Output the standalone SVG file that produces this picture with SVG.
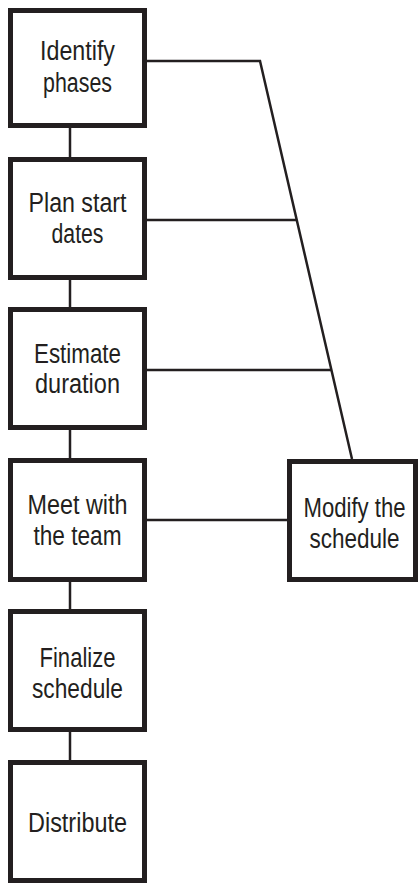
<svg xmlns="http://www.w3.org/2000/svg" width="418" height="883" viewBox="0 0 418 883">
  <style>
    .box { fill: #ffffff; stroke: #231f20; stroke-width: 5; }
    .lbl { font-family: "Liberation Sans Narrow", "Liberation Sans", Arial, sans-serif; font-size: 27px; fill: #231f20; text-anchor: middle; }
    .conn { fill: none; stroke: #231f20; stroke-width: 2.5; stroke-linejoin: miter; }
  </style>
  <rect width="418" height="883" fill="#ffffff"/>
  <g id="connectors">
    <line class="conn" x1="70" y1="128" x2="70" y2="157"/>
    <line class="conn" x1="70" y1="280" x2="70" y2="307"/>
    <line class="conn" x1="70" y1="430" x2="70" y2="458"/>
    <line class="conn" x1="70" y1="582" x2="70" y2="609"/>
    <line class="conn" x1="70" y1="732" x2="70" y2="760"/>
    <polyline class="conn" points="147,61 260,61 352,459"/>
    <line class="conn" x1="147" y1="220" x2="296.7" y2="220"/>
    <line class="conn" x1="147" y1="370" x2="331.3" y2="370"/>
    <line class="conn" x1="147" y1="520" x2="287" y2="520"/>
  </g>
  <g id="identify">
    <rect class="box" x="10.5" y="10.5" width="134" height="115"/>
    <text class="lbl" x="77.5" y="60" textLength="75" lengthAdjust="spacingAndGlyphs">Identify</text>
    <text class="lbl" x="77.5" y="92" textLength="69" lengthAdjust="spacingAndGlyphs">phases</text>
  </g>
  <g id="plan">
    <rect class="box" x="10.5" y="159.5" width="134" height="118"/>
    <text class="lbl" x="77.5" y="212" textLength="98" lengthAdjust="spacingAndGlyphs">Plan start</text>
    <text class="lbl" x="77.5" y="243" textLength="52" lengthAdjust="spacingAndGlyphs">dates</text>
  </g>
  <g id="estimate">
    <rect class="box" x="10.5" y="309.5" width="134" height="118"/>
    <text class="lbl" x="77.5" y="363" textLength="87" lengthAdjust="spacingAndGlyphs">Estimate</text>
    <text class="lbl" x="77.5" y="393" textLength="85" lengthAdjust="spacingAndGlyphs">duration</text>
  </g>
  <g id="meet">
    <rect class="box" x="10.5" y="460.5" width="134" height="119"/>
    <text class="lbl" x="77.5" y="514" textLength="100" lengthAdjust="spacingAndGlyphs">Meet with</text>
    <text class="lbl" x="77.5" y="545" textLength="88" lengthAdjust="spacingAndGlyphs">the team</text>
  </g>
  <g id="finalize">
    <rect class="box" x="10.5" y="611.5" width="134" height="118"/>
    <text class="lbl" x="77.5" y="667" textLength="76" lengthAdjust="spacingAndGlyphs">Finalize</text>
    <text class="lbl" x="77.5" y="698" textLength="91" lengthAdjust="spacingAndGlyphs">schedule</text>
  </g>
  <g id="distribute">
    <rect class="box" x="10.5" y="762.5" width="134" height="118"/>
    <text class="lbl" x="77.5" y="832" textLength="99" lengthAdjust="spacingAndGlyphs">Distribute</text>
  </g>
  <g id="modify">
    <rect class="box" x="289.5" y="461.5" width="126" height="118"/>
    <text class="lbl" x="354.5" y="517" textLength="102" lengthAdjust="spacingAndGlyphs">Modify the</text>
    <text class="lbl" x="354.5" y="548" textLength="90" lengthAdjust="spacingAndGlyphs">schedule</text>
  </g>
</svg>
